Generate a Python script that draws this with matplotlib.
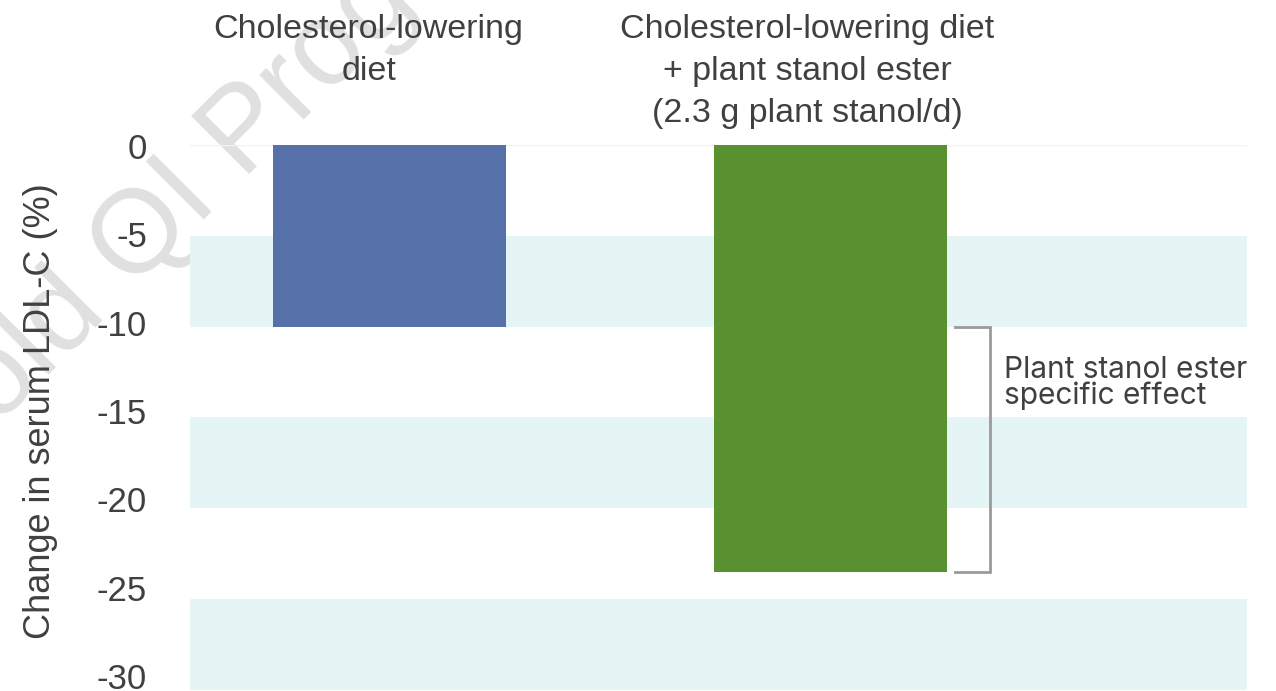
import matplotlib
matplotlib.use("Agg")
import matplotlib.pyplot as plt
import matplotlib.transforms as mtransforms

# Data
categories = ["Cholesterol-lowering\ndiet",
              "Cholesterol-lowering diet\n+ plant stanol ester\n(2.3 g plant stanol/d)"]
ldl_change = [-10.0, -23.5]
bar_colors = ["#5671a9", "#5a9130"]
yticks = [0, -5, -10, -15, -20, -25, -30]
band_ranges = [(-5, -10), (-15, -20), (-25, -30)]
effect_label = "Plant stanol ester\nspecific effect"

text_color = "#404040"
band_color = "#e5f4f5"
W, H = 1276, 691

fig = plt.figure(figsize=(W / 100, H / 100), dpi=100)

# Faint watermark behind the chart
fig.text(-0.053, 0.289, "Gold QI Program", rotation=45, fontsize=85,
         color="#e0e0e0", family="Liberation Sans", ha="left", va="baseline",
         rotation_mode="anchor", zorder=-1)

ax = fig.add_axes([190 / W, 1.5 / H, 1057 / W, 544.5 / H])
ax.patch.set_alpha(0)

# Shaded horizontal bands
for top, bottom in band_ranges:
    ax.axhspan(bottom, top, color=band_color, lw=0, zorder=0)
ax.axhline(0, color="#f2f2f2", lw=1, zorder=0)

x = [0, 1]
width = 0.528
ax.bar(x, ldl_change, width=width, color=bar_colors, zorder=2)

ax.set_xlim(-0.452, 1.944)
ax.set_ylim(-30, 0)
for s in ax.spines.values():
    s.set_visible(False)
ax.set_xticks([])
ax.set_yticks([])

# Scale labels on their own slightly tighter axis
lab_ax = fig.add_axes([190 / W, 15 / H, 1057 / W, 530 / H])
lab_ax.patch.set_alpha(0)
lab_ax.set_ylim(-30, 0)
lab_ax.set_xticks([])
for s in lab_ax.spines.values():
    s.set_visible(False)
lab_ax.set_yticks(yticks)
lab_ax.set_yticklabels([str(t) for t in yticks], fontsize=25, color=text_color,
                       family="Liberation Sans")
lab_ax.tick_params(axis="y", length=0, pad=31)
lab_ax.set_ylabel("Change in serum LDL-C (%)", fontsize=26, color=text_color,
                  family="Liberation Sans")
lab_ax.yaxis.set_label_coords(-132 / 1057, 0.50)

# Category labels above the bars
trans = mtransforms.blended_transform_factory(ax.transData, fig.transFigure)
label_x = [-0.047, 0.948]
for lx, lab in zip(label_x, categories):
    ax.text(lx, 1 - 14 / H, lab, transform=trans, ha="center", va="top",
            fontsize=24.5, color=text_color, family="Liberation Sans",
            linespacing=1.46, multialignment="center")

# Bracket showing the stanol-specific effect
bx0, bx1 = 1.282, 1.362
y_top, y_bot = ldl_change[0], ldl_change[1]
ax.plot([bx0, bx1, bx1, bx0], [y_top, y_top, y_bot, y_bot],
        color="#9a9a9a", lw=2.0, solid_joinstyle="miter", zorder=3,
        clip_on=False)
ax.text(1.394, -13.1, effect_label, ha="left", va="center", fontsize=21.5,
        color=text_color, family="Inter", linespacing=0.9)

fig.savefig("out.png", dpi=100)
